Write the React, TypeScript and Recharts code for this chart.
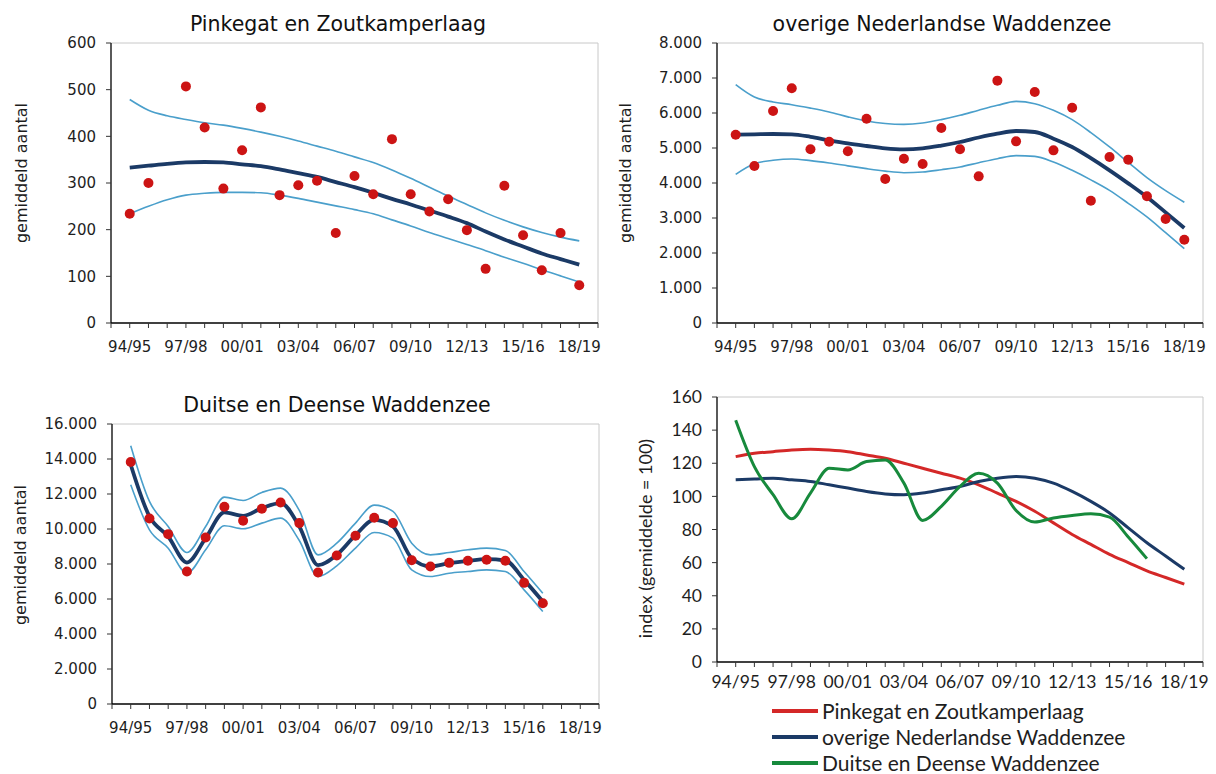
import React from "react";
import { ComposedChart, Line, XAxis, YAxis, ReferenceLine, Label } from "recharts";

// seasons 94/95 .. 18/19, every third one is labelled on the axis
const SEASONS = [
  "94/95", "95/96", "96/97", "97/98", "98/99", "99/00", "00/01", "01/02", "02/03",
  "03/04", "04/05", "05/06", "06/07", "07/08", "08/09", "09/10", "10/11", "11/12",
  "12/13", "13/14", "14/15", "15/16", "16/17", "17/18", "18/19",
];
const LABELLED = [1, 4, 7, 10, 13, 16, 19, 22, 25];
const ALL_TICKS = Array.from({ length: 27 }, (_, i) => i);

// Pinkegat en Zoutkamperlaag
const pkCount = [234, 300, null, 507, 419, 288, 370, 462, 274, 295, 305, 193, 315, 276, 394, 276, 239, 265, 199, 116, 294, 188, 113, 193, 81];
const pkTrend = [333, 337, 341, 344, 345, 344, 340, 336, 329, 321, 313, 302, 291, 279, 266, 254, 241, 228, 214, 196, 179, 164, 149, 137, 125];
const pkUpper = [479, 456, 444, 436, 429, 424, 417, 409, 400, 390, 379, 368, 356, 344, 328, 310, 291, 272, 254, 236, 220, 206, 194, 184, 176];
const pkLower = [234, 250, 264, 274, 278, 280, 280, 279, 274, 267, 259, 251, 243, 234, 221, 208, 194, 181, 168, 155, 141, 128, 114, 101, 88];

// overige Nederlandse Waddenzee
const owCount = [5381, 4486, 6057, 6705, 4962, 5181, 4905, 5838, 4114, 4695, 4543, 5571, 4962, 4190, 6924, 5190, 6600, 4933, 6152, 3495, 4743, 4667, 3619, 2971, 2381];
const owTrend = [5381, 5390, 5400, 5390, 5320, 5220, 5130, 5057, 4990, 4962, 4990, 5070, 5171, 5300, 5410, 5486, 5457, 5267, 5029, 4710, 4362, 3990, 3600, 3160, 2714];
const owUpper = [6810, 6457, 6314, 6238, 6140, 6029, 5890, 5771, 5700, 5676, 5714, 5810, 5933, 6080, 6219, 6333, 6267, 6076, 5810, 5440, 5029, 4590, 4152, 3780, 3448];
const owLower = [4248, 4552, 4648, 4686, 4640, 4571, 4490, 4410, 4340, 4295, 4314, 4380, 4457, 4580, 4695, 4781, 4762, 4600, 4362, 4090, 3790, 3420, 3029, 2580, 2124];

// Duitse en Deense Waddenzee (t/m 16/17)
const ddCount = [13825, 10603, 9706, 7571, 9516, 11270, 10469, 11156, 11518, 10336, 7513, 8486, 9611, 10641, 10336, 8219, 7857, 8066, 8181, 8238, 8181, 6922, 5759];
const ddTrend = [13673, 10717, 9573, 8085, 9478, 10946, 10755, 11194, 11480, 10145, 7933, 8524, 9649, 10526, 10145, 8333, 7857, 8047, 8181, 8276, 8200, 7094, 5854];
const ddUpper = [14760, 11575, 10145, 8657, 10145, 11823, 11632, 12090, 12338, 11060, 8524, 9191, 10336, 11365, 11003, 9191, 8524, 8657, 8810, 8905, 8772, 7571, 6331];
const ddLower = [12529, 9954, 8905, 7475, 8810, 10183, 10011, 10336, 10622, 9344, 7284, 7895, 8905, 9802, 9478, 7666, 7284, 7475, 7571, 7666, 7571, 6522, 5282];

// index (gemiddelde = 100)
const idxPink = [124, 126, 127, 128, 128.5, 128, 127, 125, 123, 120, 117, 114, 111, 107, 102, 97, 91, 84, 77, 71, 65, 60, 55, 51, 47];
const idxOverig = [110, 110.5, 111, 110, 109, 107, 105, 103, 101.5, 101, 102, 104, 106, 109, 111, 112, 111, 108, 103, 97, 90, 81, 72, 64, 56];
const idxDuits = [146, 118, 101, 86.5, 102, 117, 116, 121, 122, 108, 85.5, 94, 106, 114, 108, 91.5, 84.5, 87, 88.5, 89.5, 87.5, 75.5, 62.4];

const RED_DOT = "#CC1414";
const DARK_BLUE = "#1B3A66";
const LIGHT_BLUE = "#4A9FCB";
const RED_LINE = "#D42828";
const GREEN_LINE = "#178A3C";
const TEXT = "#1e1e1e";

const TAHOMA = "'DejaVu Sans', sans-serif";
const CALIBRI = "Lato, 'DejaVu Sans', sans-serif";

const AXIS_W = 110;

const rowsOf = (series: Record<string, (number | null)[]>) =>
  SEASONS.map((season, i) => {
    const row: any = { x: i + 1, season };
    Object.keys(series).forEach((k) => {
      const v = series[k][i];
      row[k] = v === undefined ? null : v;
    });
    return row;
  });

const dotted = (v: number) => String(v).replace(/\B(?=(\d{3})+(?!\d))/g, ".");
const seasonTick = (v: number) => (LABELLED.includes(v) ? SEASONS[v - 1] : "");

const yTitle = (text: string, dx: number, dy: number, font: string, size: number) => (props: any) => {
  const vb = props.viewBox || { x: 0, y: 10, width: AXIS_W, height: 280 };
  const cx = vb.x + dx;
  const cy = vb.y + vb.height / 2 + dy;
  return (
    <text
      x={cx}
      y={cy}
      transform={`rotate(-90, ${cx}, ${cy})`}
      textAnchor="middle"
      dominantBaseline="central"
      fontSize={size}
      fontFamily={font}
      fill={TEXT}
    >
      {text}
    </text>
  );
};

interface PanelProps {
  left: number;
  top: number;
  plotW: number;
  plotH: number;
  yMax: number;
  yStep: number;
  data: any[];
  font: string;
  tickSize: number;
  xTickMargin: number;
  title: React.ReactNode;
  children: React.ReactNode;
}

function Panel({ left, top, plotW, plotH, yMax, yStep, data, font, tickSize, xTickMargin, title, children }: PanelProps) {
  const yTicks = Array.from({ length: yMax / yStep + 1 }, (_, i) => i * yStep);
  const tick = { fontSize: tickSize, fill: TEXT, fontFamily: font };
  return (
    <div style={{ position: "absolute", left: left - AXIS_W, top: top - 10 }}>
      <ComposedChart width={plotW + AXIS_W + 10} height={plotH + 50} data={data} margin={{ top: 10, right: 10, left: 0, bottom: 0 }}>
        <ReferenceLine y={yMax} stroke="#c8c8c8" strokeWidth={1} />
        <ReferenceLine x={26} stroke="#c8c8c8" strokeWidth={1} />
        <XAxis
          type="number"
          dataKey="x"
          domain={[0, 26]}
          ticks={ALL_TICKS}
          interval={0}
          tickFormatter={seasonTick}
          axisLine={{ stroke: "#000", strokeWidth: 1.3 }}
          tickLine={{ stroke: "#333" }}
          tickSize={5}
          tickMargin={xTickMargin}
          height={40}
          tick={tick}
        />
        <YAxis
          type="number"
          domain={[0, yMax]}
          ticks={yTicks}
          interval={0}
          tickFormatter={dotted}
          axisLine={{ stroke: "#000", strokeWidth: 1.3 }}
          tickLine={{ stroke: "#333" }}
          tickSize={5}
          tickMargin={10}
          width={AXIS_W}
          tick={tick}
        >
          {title}
        </YAxis>
        {children}
      </ComposedChart>
    </div>
  );
}

const ciLine = (key: string) => (
  <Line key={key} type="monotone" dataKey={key} stroke={LIGHT_BLUE} strokeWidth={1.6} dot={false} isAnimationActive={false} />
);
const trendLine = (
  <Line key="trend" type="monotone" dataKey="trend" stroke={DARK_BLUE} strokeWidth={3.8} dot={false} isAnimationActive={false} />
);
const countDots = (
  <Line
    key="count"
    dataKey="count"
    stroke="none"
    strokeWidth={0}
    dot={{ r: 5, fill: RED_DOT, stroke: RED_DOT, strokeWidth: 0 }}
    isAnimationActive={false}
  />
);

const Title = ({ cx, cy, text }: { cx: number; cy: number; text: string }) => (
  <div
    style={{
      position: "absolute",
      left: cx - 220,
      top: cy - 14,
      width: 440,
      height: 28,
      lineHeight: "28px",
      textAlign: "center",
      fontFamily: TAHOMA,
      fontSize: 20.5,
      color: "#111",
    }}
  >
    {text}
  </div>
);

const LEGEND = [
  { name: "Pinkegat en Zoutkamperlaag", color: RED_LINE },
  { name: "overige Nederlandse Waddenzee", color: DARK_BLUE },
  { name: "Duitse en Deense Waddenzee", color: GREEN_LINE },
];

export default function App() {
  const pk = rowsOf({ count: pkCount, trend: pkTrend, upper: pkUpper, lower: pkLower });
  const ow = rowsOf({ count: owCount, trend: owTrend, upper: owUpper, lower: owLower });
  const dd = rowsOf({ count: ddCount, trend: ddTrend, upper: ddUpper, lower: ddLower });
  const idx = rowsOf({ pink: idxPink, overig: idxOverig, duits: idxDuits });

  return (
    <div style={{ position: "absolute", left: 0, top: 0, width: 1216, height: 774, background: "#fff", overflow: "hidden" }}>
      <Title cx={338} cy={24} text="Pinkegat en Zoutkamperlaag" />
      <Title cx={942} cy={24} text="overige Nederlandse Waddenzee" />
      <Title cx={337} cy={405} text="Duitse en Deense Waddenzee" />

      <Panel left={111} top={43} plotW={487} plotH={280} yMax={600} yStep={100} data={pk} font={TAHOMA} tickSize={15} xTickMargin={13}
        title={<Label content={yTitle("gemiddeld aantal", 20, -10, TAHOMA, 16)} />}>
        {ciLine("upper")}
        {ciLine("lower")}
        {trendLine}
        {countDots}
      </Panel>

      <Panel left={717} top={43} plotW={486} plotH={280} yMax={8000} yStep={1000} data={ow} font={TAHOMA} tickSize={15} xTickMargin={13}
        title={<Label content={yTitle("gemiddeld aantal", 18, -10, TAHOMA, 16)} />}>
        {ciLine("upper")}
        {ciLine("lower")}
        {trendLine}
        {countDots}
      </Panel>

      <Panel left={112} top={424} plotW={487} plotH={280} yMax={16000} yStep={2000} data={dd} font={TAHOMA} tickSize={15} xTickMargin={13}
        title={<Label content={yTitle("gemiddeld aantal", 18, -9, TAHOMA, 16)} />}>
        {ciLine("upper")}
        {ciLine("lower")}
        {trendLine}
        {countDots}
      </Panel>

      <Panel left={717} top={397} plotW={486} plotH={265} yMax={160} yStep={20} data={idx} font={CALIBRI} tickSize={17.5} xTickMargin={9}
        title={<Label content={yTitle("index (gemiddelde = 100)", 38, 9, CALIBRI, 18)} />}>
        <Line type="monotone" dataKey="pink" stroke={RED_LINE} strokeWidth={3} dot={false} isAnimationActive={false} />
        <Line type="monotone" dataKey="overig" stroke={DARK_BLUE} strokeWidth={3} dot={false} isAnimationActive={false} />
        <Line type="monotone" dataKey="duits" stroke={GREEN_LINE} strokeWidth={3} dot={false} isAnimationActive={false} />
      </Panel>

      {LEGEND.map((item, i) => (
        <div key={item.name} style={{ position: "absolute", left: 772, top: 711 + i * 26 - 11, height: 22, display: "flex", alignItems: "center" }}>
          <div style={{ width: 46, height: 4, background: item.color, marginRight: 4 }} />
          <span style={{ fontFamily: CALIBRI, fontSize: 21, lineHeight: "16px", color: TEXT, whiteSpace: "nowrap" }}>{item.name}</span>
        </div>
      ))}
    </div>
  );
}
